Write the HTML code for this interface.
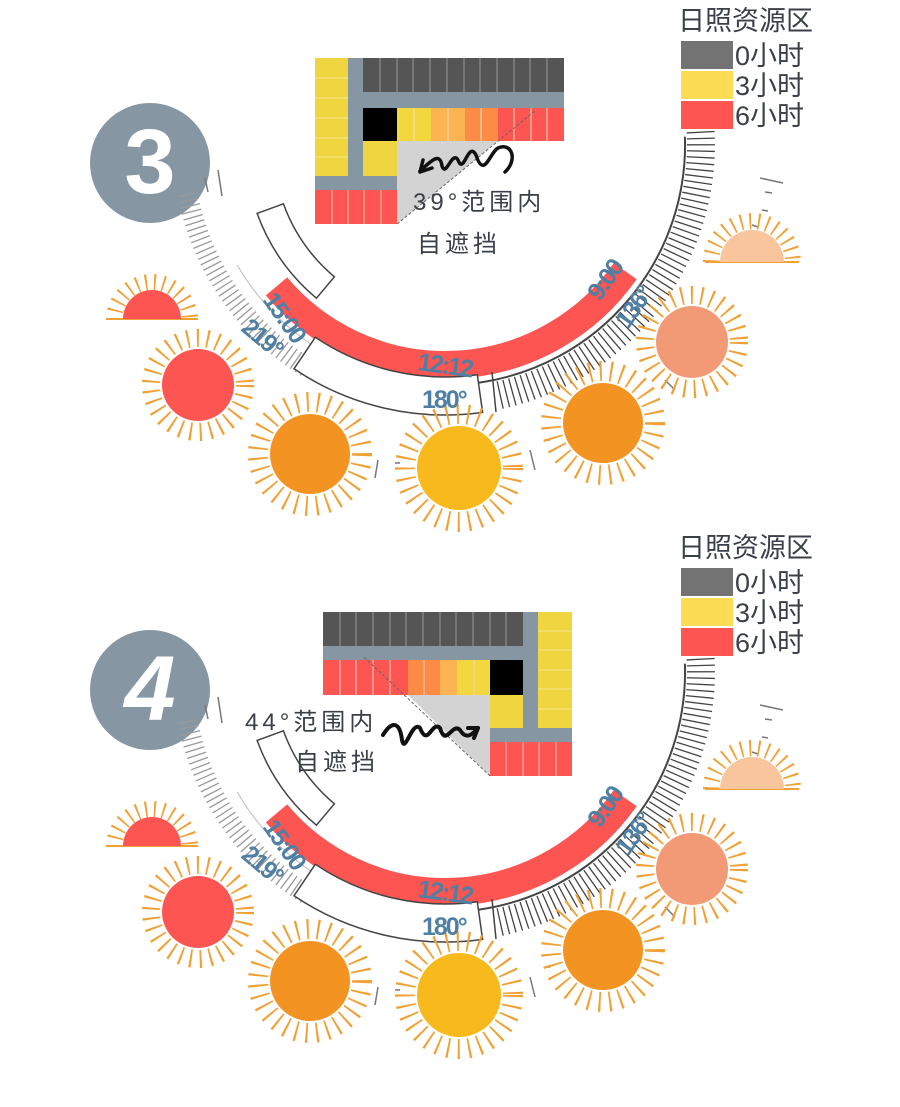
<!DOCTYPE html>
<html><head><meta charset="utf-8"><style>
html,body{margin:0;padding:0;background:#fff;}
svg{display:block;}
text{font-family:"Liberation Sans","Noto Sans CJK SC",sans-serif;}
.lg{font-size:27px;fill:#3a3f4a;}
.lb{font-size:24px;fill:#3a3f4a;letter-spacing:4px;}
.bl{font-family:"Liberation Sans",sans-serif;font-weight:bold;font-size:25px;fill:#4f7fa3;letter-spacing:-2px;}
</style></head><body>
<svg width="900" height="1107" viewBox="0 0 900 1107" xmlns="http://www.w3.org/2000/svg">
<defs>
<g id="common">
  <circle cx="150" cy="163" r="60" fill="#8796a3"/>
  <path d="M700.6,131.6 A256,256 0 0 1 498.2,395.4" fill="none" stroke="#444" stroke-width="28" stroke-dasharray="1.3 5"/>
  <path d="M306.2,367.2 A262,262 0 0 1 187,190.5" fill="none" stroke="#999" stroke-width="20" stroke-dasharray="1.3 4.5"/>
  <path d="M684.9,136.6 A240,240 0 0 1 478.4,382.7" fill="none" stroke="#444" stroke-width="2"/>
  <path d="M355.1,367.5 A240,240 0 0 1 237.2,265" fill="none" stroke="#bbb" stroke-width="1"/>
  <path d="M625.2,271.2 A220,220 0 0 1 276.5,286.4" fill="none" stroke="#fd5552" stroke-width="28"/>
  <path d="M482.6,412.4 A270,270 0 0 1 294,368.8 L315.3,337.3 A232,232 0 0 0 477.3,374.7 Z" fill="#fff" stroke="#444" stroke-width="1.5"/>
  <line x1="492" y1="372" x2="496" y2="412" stroke="#444" stroke-width="1.5"/>
  <path d="M316.4,298.2 A200,200 0 0 1 257.1,213.4 L283.4,203.8 A172,172 0 0 0 334.4,276.8 Z" fill="#fff" stroke="#444" stroke-width="1.5"/>
  <g stroke="#777" stroke-width="1.5">
    <line x1="760" y1="178" x2="783" y2="183"/><line x1="765" y1="192" x2="772" y2="193"/>
    <line x1="762" y1="210" x2="768" y2="211"/><line x1="752" y1="225" x2="758" y2="227"/>
    <line x1="735" y1="288" x2="740" y2="291"/><line x1="725" y1="300" x2="730" y2="303"/>
    <line x1="665" y1="380" x2="675" y2="390"/><line x1="218" y1="170" x2="222" y2="196"/>
    <line x1="205" y1="178" x2="208" y2="192"/><line x1="378" y1="460" x2="375" y2="478"/>
    <line x1="530" y1="450" x2="535" y2="470"/><line x1="395" y1="463" x2="400" y2="463"/>
    <line x1="545" y1="440" x2="550" y2="440"/>
  </g>
  <g>
    <circle cx="152" cy="320" r="38" fill="none" stroke="#f0a135" stroke-width="16" stroke-dasharray="1.8 7" transform="rotate(180 152 320)"/>
    <rect x="100" y="320" width="105" height="50" fill="#fff"/>
    <line x1="106" y1="319" x2="198" y2="319" stroke="#f0a135" stroke-width="2"/>
    <path d="M123,319 A29,29 0 0 1 181,319 Z" fill="#fd5552"/>

    <circle cx="752" cy="262" r="41" fill="none" stroke="#f0a135" stroke-width="16" stroke-dasharray="1.8 7" transform="rotate(180 752 262)"/>
    <rect x="700" y="262" width="105" height="50" fill="#fff"/>
    <line x1="705" y1="262" x2="799" y2="262" stroke="#f0a135" stroke-width="2"/>
    <path d="M720,262 A32,32 0 0 1 784,262 Z" fill="#f8c59c"/>

    <circle cx="198" cy="385" r="47" fill="none" stroke="#f0a135" stroke-width="18" stroke-dasharray="2 8"/>
    <circle cx="198" cy="385" r="36" fill="#fd5552"/>
    <circle cx="692" cy="342" r="47" fill="none" stroke="#f0a135" stroke-width="18" stroke-dasharray="2 8"/>
    <circle cx="692" cy="342" r="36" fill="#f19a75"/>
    <circle cx="310" cy="454" r="52" fill="none" stroke="#f0a135" stroke-width="20" stroke-dasharray="2 8.5"/>
    <circle cx="310" cy="454" r="40" fill="#f39422"/>
    <circle cx="603" cy="423" r="52" fill="none" stroke="#f0a135" stroke-width="20" stroke-dasharray="2 8.5"/>
    <circle cx="603" cy="423" r="40" fill="#f39422"/>
    <circle cx="459" cy="468" r="54" fill="none" stroke="#f0a135" stroke-width="20" stroke-dasharray="2 8.5"/>
    <circle cx="459" cy="468" r="42" fill="#f8b91c"/>
  </g>
  <rect x="681" y="41" width="52" height="28" fill="#737373"/>
  <rect x="681" y="71" width="52" height="28" fill="#fddc55"/>
  <rect x="681" y="101" width="52" height="28" fill="#fd5552"/>
</g>
</defs>

<use href="#common"/>
<use href="#common" transform="translate(0,527)"/>

<text x="150" y="193" text-anchor="middle" font-size="92" font-weight="bold" fill="#fff" font-family="Liberation Serif,serif">3</text>
<text class="lg" x="678" y="30">日照资源区</text>
<text class="lg" x="735" y="65">0小时</text>
<text class="lg" x="735" y="95">3小时</text>
<text class="lg" x="735" y="125">6小时</text>

<g>
  <rect x="315" y="58" width="33" height="118" fill="#efd640"/>
  <g stroke="#f6e68a" stroke-width="1"><line x1="315" y1="78" x2="348" y2="78"/><line x1="315" y1="98" x2="348" y2="98"/><line x1="315" y1="118" x2="348" y2="118"/><line x1="315" y1="138" x2="348" y2="138"/><line x1="315" y1="157" x2="348" y2="157"/></g>
  <rect x="348" y="58" width="15" height="132" fill="#8796a3"/>
  <rect x="315" y="176" width="82" height="14" fill="#8796a3"/>
  <rect x="348" y="92" width="216" height="16" fill="#8796a3"/>
  <rect x="363" y="58" width="201" height="34" fill="#555"/>
  <g stroke="#999" stroke-width="1"><line x1="380" y1="58" x2="380" y2="92"/><line x1="397" y1="58" x2="397" y2="92"/><line x1="413" y1="58" x2="413" y2="92"/><line x1="430" y1="58" x2="430" y2="92"/><line x1="447" y1="58" x2="447" y2="92"/><line x1="464" y1="58" x2="464" y2="92"/><line x1="480" y1="58" x2="480" y2="92"/><line x1="497" y1="58" x2="497" y2="92"/><line x1="514" y1="58" x2="514" y2="92"/><line x1="530" y1="58" x2="530" y2="92"/><line x1="547" y1="58" x2="547" y2="92"/></g>
  <rect x="363" y="108" width="34" height="33" fill="#000"/>
  <rect x="397" y="108" width="34" height="33" fill="#f2d83e"/>
  <rect x="431" y="108" width="34" height="33" fill="#fbb451"/>
  <rect x="465" y="108" width="33" height="33" fill="#fc8c45"/>
  <rect x="498" y="108" width="66" height="33" fill="#fd5552"/>
  <g stroke="#fbe0c0" stroke-width="1"><line x1="414" y1="108" x2="414" y2="141"/><line x1="448" y1="108" x2="448" y2="141"/><line x1="481" y1="108" x2="481" y2="141"/><line x1="514" y1="108" x2="514" y2="141"/><line x1="531" y1="108" x2="531" y2="141"/><line x1="547" y1="108" x2="547" y2="141"/></g>
  <rect x="363" y="141" width="34" height="35" fill="#efd640"/>
  <rect x="315" y="190" width="82" height="34" fill="#fd5552"/>
  <g stroke="#fbb" stroke-width="1"><line x1="332" y1="190" x2="332" y2="224"/><line x1="348" y1="190" x2="348" y2="224"/><line x1="364" y1="190" x2="364" y2="224"/><line x1="381" y1="190" x2="381" y2="224"/></g>
  <polygon points="397,141 498,141 397,224" fill="#d3d3d3"/>
  <line x1="397" y1="224" x2="536" y2="110" stroke="#666" stroke-width="1" stroke-dasharray="3 2"/>
  <path d="M420,171 C432,160 440,152 442,166 C446,178 452,150 458,160 C464,176 468,140 476,155 C484,180 490,152 498,148 C512,142 518,160 505,172" fill="none" stroke="#111" stroke-width="3.5" stroke-linecap="round"/>
  <path d="M420,172 L432,168 M420,172 L423,160" stroke="#111" stroke-width="3.5" stroke-linecap="round"/>
</g>
<text class="lb" x="413" y="210">39°范围内</text>
<text class="lb" x="417" y="252">自遮挡</text>

<text class="bl" transform="translate(262,300) rotate(55)">15:00</text>
<text class="bl" transform="translate(240,330) rotate(40)">219°</text>
<text class="bl" x="418" y="373" transform="rotate(8 440 365)">12:12</text>
<text class="bl" x="422" y="408">180°</text>
<text class="bl" transform="translate(600,302) rotate(-55)">9:00</text>
<text class="bl" transform="translate(628,330) rotate(-55)">136°</text>

<text x="150" y="720" text-anchor="middle" font-size="92" font-weight="bold" fill="#fff" font-style="italic" font-family="Liberation Serif,serif">4</text>
<text class="lg" x="678" y="557">日照资源区</text>
<text class="lg" x="735" y="592">0小时</text>
<text class="lg" x="735" y="622">3小时</text>
<text class="lg" x="735" y="652">6小时</text>

<g>
  <rect x="538" y="612" width="34" height="116" fill="#efd640"/>
  <g stroke="#f6e68a" stroke-width="1"><line x1="538" y1="631" x2="572" y2="631"/><line x1="538" y1="650" x2="572" y2="650"/><line x1="538" y1="670" x2="572" y2="670"/><line x1="538" y1="689" x2="572" y2="689"/><line x1="538" y1="709" x2="572" y2="709"/></g>
  <rect x="523" y="612" width="15" height="130" fill="#8796a3"/>
  <rect x="323" y="646" width="215" height="14" fill="#8796a3"/>
  <rect x="490" y="728" width="82" height="14" fill="#8796a3"/>
  <rect x="323" y="612" width="200" height="34" fill="#555"/>
  <g stroke="#999" stroke-width="1"><line x1="340" y1="612" x2="340" y2="646"/><line x1="356" y1="612" x2="356" y2="646"/><line x1="373" y1="612" x2="373" y2="646"/><line x1="390" y1="612" x2="390" y2="646"/><line x1="406" y1="612" x2="406" y2="646"/><line x1="423" y1="612" x2="423" y2="646"/><line x1="440" y1="612" x2="440" y2="646"/><line x1="456" y1="612" x2="456" y2="646"/><line x1="473" y1="612" x2="473" y2="646"/><line x1="490" y1="612" x2="490" y2="646"/><line x1="506" y1="612" x2="506" y2="646"/></g>
  <rect x="323" y="660" width="85" height="35" fill="#fd5552"/>
  <rect x="408" y="660" width="32" height="35" fill="#fc8c45"/>
  <rect x="440" y="660" width="17" height="35" fill="#fbb451"/>
  <rect x="457" y="660" width="33" height="35" fill="#f2d83e"/>
  <rect x="490" y="660" width="33" height="35" fill="#000"/>
  <g stroke="#fbd0c0" stroke-width="1"><line x1="340" y1="660" x2="340" y2="695"/><line x1="356" y1="660" x2="356" y2="695"/><line x1="373" y1="660" x2="373" y2="695"/><line x1="390" y1="660" x2="390" y2="695"/><line x1="424" y1="660" x2="424" y2="695"/><line x1="474" y1="660" x2="474" y2="695"/></g>
  <rect x="490" y="695" width="33" height="33" fill="#efd640"/>
  <rect x="490" y="742" width="82" height="34" fill="#fd5552"/>
  <g stroke="#fbb" stroke-width="1"><line x1="506" y1="742" x2="506" y2="776"/><line x1="523" y1="742" x2="523" y2="776"/><line x1="539" y1="742" x2="539" y2="776"/><line x1="556" y1="742" x2="556" y2="776"/></g>
  <polygon points="490,695 408,695 490,776" fill="#d3d3d3"/>
  <line x1="490" y1="776" x2="363" y2="656" stroke="#666" stroke-width="1" stroke-dasharray="3 2"/>
  <path d="M383,735 C392,720 400,722 402,740 C405,755 412,720 420,728 C428,748 432,720 440,728 C446,748 452,722 460,730 C466,740 472,735 478,728" fill="none" stroke="#111" stroke-width="4" stroke-linecap="round"/>
  <path d="M478,728 L468,728 M478,728 L474,738" stroke="#111" stroke-width="4" stroke-linecap="round"/>
</g>
<text class="lb" x="245" y="730">44°范围内</text>
<text class="lb" x="295" y="770">自遮挡</text>

<text class="bl" transform="translate(262,827) rotate(55)">15:00</text>
<text class="bl" transform="translate(240,857) rotate(40)">219°</text>
<text class="bl" x="418" y="900" transform="rotate(8 440 892)">12:12</text>
<text class="bl" x="422" y="935">180°</text>
<text class="bl" transform="translate(600,829) rotate(-55)">9:00</text>
<text class="bl" transform="translate(628,857) rotate(-55)">136°</text>
</svg>
</body></html>
